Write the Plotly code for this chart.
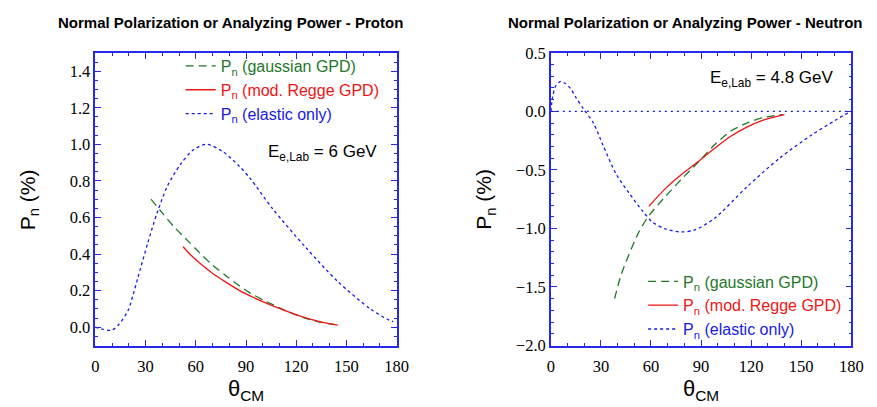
import plotly.graph_objects as go

# ---------------- Data ----------------
# Proton panel
p_el_theta = [0, 4, 9.8, 14, 19.5, 22.5, 25.4, 31.3, 37.1, 43, 50.8, 58.6, 66.4, 76.2, 86, 92.8, 105.7, 125.3, 144.8, 164.3, 174.1, 178]
p_el_val = [0.0, -0.01, -0.016, 0.015, 0.09, 0.175, 0.27, 0.46, 0.63, 0.77, 0.89, 0.97, 1.0, 0.96, 0.88, 0.81, 0.65, 0.44, 0.25, 0.10, 0.045, 0.03]

p_gau_theta = [33.2, 40, 46.9, 55, 62.5, 70, 78.2, 86.2, 92.8, 100, 105.7, 115, 125.3, 135, 144.8]
p_gau_val = [0.70, 0.625, 0.55, 0.475, 0.405, 0.34, 0.28, 0.225, 0.185, 0.15, 0.125, 0.085, 0.05, 0.026, 0.012]

p_reg_theta = [52.4, 57, 62.5, 70, 78.2, 86.2, 92.8, 100, 105.7, 115, 125.3, 135, 144.8]
p_reg_val = [0.44, 0.395, 0.35, 0.295, 0.245, 0.20, 0.17, 0.14, 0.118, 0.085, 0.052, 0.028, 0.012]

# Neutron panel
n_el_theta = [0, 1, 3, 5.9, 8.5, 11.8, 15, 19.6, 25.5, 31.3, 39.2, 47, 54.9, 60.8, 68.6, 78.4, 86.3, 97.8, 117.4, 137, 156.6, 170, 176.2, 180]
n_el_val = [0.0, 0.12, 0.22, 0.256, 0.24, 0.196, 0.12, 0.02, -0.10, -0.29, -0.537, -0.70, -0.85, -0.944, -1.004, -1.03, -1.012, -0.917, -0.646, -0.40, -0.198, -0.08, -0.027, 0.0]

n_gau_theta = [38.2, 42, 47, 52.9, 58.8, 68.6, 78.4, 88.2, 97.8, 107.6, 117.4, 127.2, 139]
n_gau_val = [-1.60, -1.40, -1.216, -1.026, -0.89, -0.727, -0.578, -0.435, -0.29, -0.17, -0.10, -0.054, -0.027]

n_reg_theta = [58.8, 68.6, 78.4, 88.2, 97.8, 107.6, 117.4, 127.2, 140]
n_reg_val = [-0.81, -0.66, -0.537, -0.43, -0.32, -0.215, -0.135, -0.075, -0.027]

x_ticks = [0, 30, 60, 90, 120, 150, 180]

GREEN = "rgb(30,120,40)"
RED = "rgb(240,20,20)"
BLUE = "rgb(25,25,230)"
AXC = "rgb(40,40,235)"
SANS = "Liberation Sans"
SERIF = "Liberation Serif"

def lname(color, text):
    return f"<span style='color:{color}'>P<sub>n</sub> {text}</span>"

fig = go.Figure()

def add_panel(xa, ya, leg, gt, gv, rt, rv, et, ev):
    fig.add_trace(go.Scatter(x=gt, y=gv, mode="lines", xaxis=xa, yaxis=ya, legend=leg,
                             name=lname(GREEN, "(gaussian GPD)"),
                             line=dict(color=GREEN, width=1.3, dash="8px,5px", shape="spline", smoothing=0.8)))
    fig.add_trace(go.Scatter(x=rt, y=rv, mode="lines", xaxis=xa, yaxis=ya, legend=leg,
                             name=lname(RED, "(mod. Regge GPD)"),
                             line=dict(color=RED, width=1.3, shape="spline", smoothing=0.8)))
    fig.add_trace(go.Scatter(x=et, y=ev, mode="lines", xaxis=xa, yaxis=ya, legend=leg,
                             name=lname(BLUE, "(elastic only)"),
                             line=dict(color=BLUE, width=1.3, dash="3px,3px", shape="spline", smoothing=0.8)))

add_panel("x", "y", "legend", p_gau_theta, p_gau_val, p_reg_theta, p_reg_val, p_el_theta, p_el_val)
add_panel("x2", "y2", "legend2", n_gau_theta, n_gau_val, n_reg_theta, n_reg_val, n_el_theta, n_el_val)

# zero reference line in neutron panel
fig.add_shape(type="line", xref="x2", yref="y2", x0=0, x1=180, y0=0, y1=0,
              line=dict(color=BLUE, width=1.2, dash="2px,4px"))

def xaxis_cfg(domain):
    return dict(domain=domain, range=[0, 180], tickvals=x_ticks, ticks="inside", ticklen=6,
                tickcolor=AXC, tickwidth=1.2, showline=True, linecolor=AXC, linewidth=1.5,
                mirror="allticks", showgrid=False, zeroline=False, ticklabelstandoff=5,
                minor=dict(dtick=10, ticks="inside", ticklen=3, tickcolor=AXC, tickwidth=1.2, showgrid=False),
                tickfont=dict(family=SERIF, size=16.5, color="black"),
                title=dict(text="θ<sub>CM</sub>", font=dict(family=SANS, size=22, color="black"), standoff=3))

def yaxis_cfg(domain, rng, dtick, minor, anchor):
    return dict(domain=domain, range=rng, dtick=dtick, tick0=0, tickformat=".1f", ticks="inside", ticklen=6,
                tickcolor=AXC, tickwidth=1.2, showline=True, linecolor=AXC, linewidth=1.5,
                mirror="allticks", showgrid=False, zeroline=False, anchor=anchor,
                minor=dict(dtick=minor, ticks="inside", ticklen=3, tickcolor=AXC, tickwidth=1.2, showgrid=False),
                tickfont=dict(family=SERIF, size=16.5, color="black"))

ydom = [1 - 353 / 407, 1 - 46 / 407]
ymid = 1 - 200 / 407
fig.update_layout(
    width=877, height=407, margin=dict(l=0, r=0, t=0, b=0),
    font=dict(family=SERIF, size=16.5, color="black"),
    paper_bgcolor="white", plot_bgcolor="white",
    xaxis=xaxis_cfg([93 / 877, 400 / 877]),
    yaxis=yaxis_cfg(ydom, [-0.1, 1.5], 0.2, 0.05, "x"),
    xaxis2=xaxis_cfg([557 / 877, 863 / 877]) | dict(anchor="y2"),
    yaxis2=yaxis_cfg(ydom, [-2.0, 0.5], 0.5, 0.1, "x2"),
    legend=dict(x=180 / 877, y=1 - 42 / 407, xanchor="left", yanchor="top",
                bgcolor="rgba(0,0,0,0)", font=dict(family=SANS, size=16), tracegroupgap=0,
                itemwidth=30),
    legend2=dict(x=651 / 877, y=1 - 268 / 407, xanchor="left", yanchor="top",
                 bgcolor="rgba(0,0,0,0)", font=dict(family=SANS, size=16), tracegroupgap=0,
                 itemwidth=30),
    annotations=[
        dict(text="<b>Normal Polarization or Analyzing Power - Proton</b>", xref="paper", yref="paper",
             x=231 / 877, y=1 - 14 / 407, xanchor="center", yanchor="middle", showarrow=False,
             font=dict(family=SANS, size=15, color="black")),
        dict(text="<b>Normal Polarization or Analyzing Power - Neutron</b>", xref="paper", yref="paper",
             x=694 / 877, y=1 - 14 / 407, xanchor="center", yanchor="middle", showarrow=False,
             font=dict(family=SANS, size=15, color="black")),
        dict(text="E<sub>e,Lab</sub> = 6 GeV", xref="paper", yref="paper",
             x=324 / 877, y=1 - 151 / 407, xanchor="center", yanchor="middle", showarrow=False,
             font=dict(family=SANS, size=17, color="black")),
        dict(text="E<sub>e,Lab</sub> = 4.8 GeV", xref="paper", yref="paper",
             x=782 / 877, y=1 - 73 / 407, xanchor="center", yanchor="middle", showarrow=False,
             font=dict(family=SANS, size=17, color="black")),
        dict(text="P<sub>n</sub> (%)", xref="paper", yref="paper", textangle=-90,
             x=25 / 877, y=ymid, xanchor="center", yanchor="middle", showarrow=False,
             font=dict(family=SANS, size=21, color="black")),
        dict(text="P<sub>n</sub> (%)", xref="paper", yref="paper", textangle=-90,
             x=490 / 877, y=ymid, xanchor="center", yanchor="middle", showarrow=False,
             font=dict(family=SANS, size=21, color="black")),
    ],
)

fig.write_html("out.html")
